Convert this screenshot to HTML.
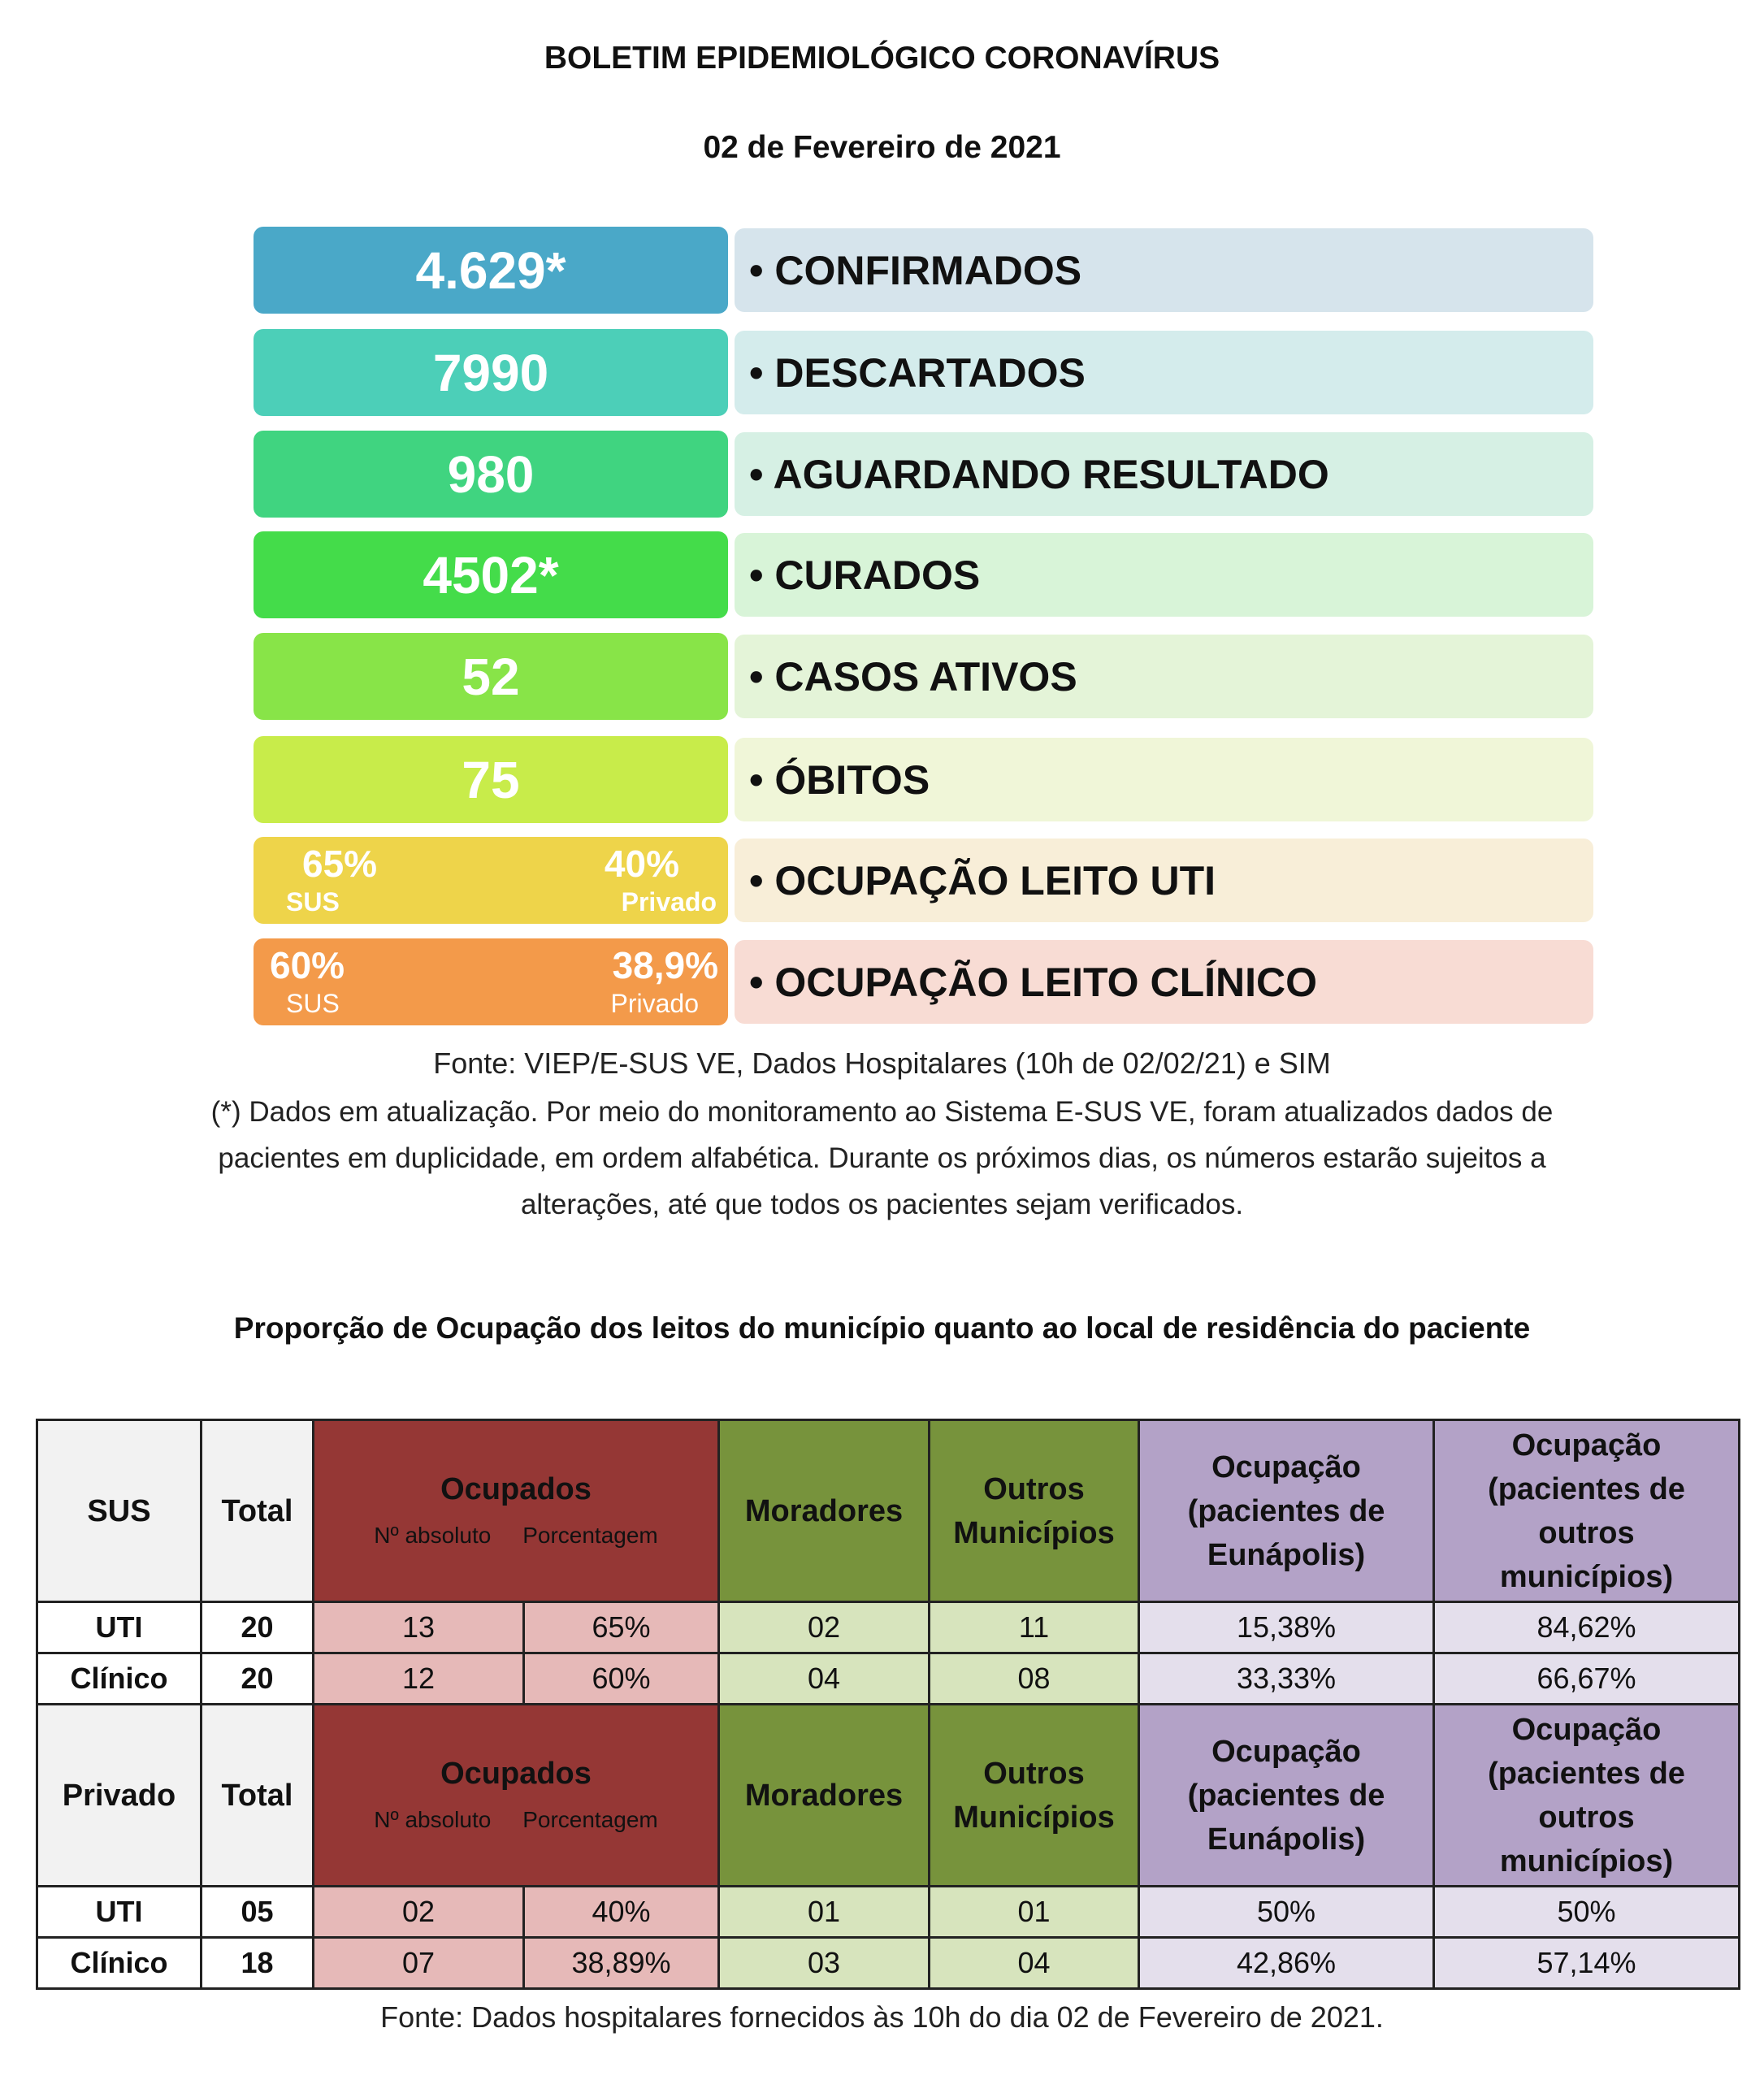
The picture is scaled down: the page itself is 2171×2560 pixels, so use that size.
<!DOCTYPE html>
<html><head><meta charset="utf-8"><style>
*{margin:0;padding:0;box-sizing:border-box}
body{width:2171px;height:2560px;background:#fff;position:relative;overflow:hidden;font-family:"Liberation Sans",sans-serif;color:#111}
.a{position:absolute}
.c{text-align:center}
.t{font-weight:bold;font-size:39px;left:0;width:2171px;text-align:center}
.lb{left:312px;width:584px;height:107px;border-radius:12px;color:#fff;font-weight:bold;font-size:64px;display:flex;align-items:center;justify-content:center}
.rb{left:904px;width:1057px;height:103px;border-radius:12px;font-weight:bold;font-size:50px;display:flex;align-items:center;padding-left:18px}
.note{left:0;width:2171px;text-align:center;font-size:35px;color:#222}
table{position:absolute;left:44px;top:1746px;border-collapse:collapse;font-size:36px}
td{border:3px solid #222;text-align:center;padding:0}
.hr td{height:224px;font-weight:bold;font-size:38px;line-height:54px}
.dr td{height:63px}
.g{background:#f2f2f2}.w{background:#fff;font-weight:bold}
.r{background:#953735;color:#111}.gr{background:#77933c}.p{background:#b3a2c7}
.pk{background:#e6b9b8}.lg{background:#d7e4bd}.lp{background:#e4dfec}
.sub{font-weight:normal;font-size:28px;line-height:36px}
</style></head><body>
<div class="a t" style="top:50px">BOLETIM EPIDEMIOLÓGICO CORONAVÍRUS</div>
<div class="a t" style="top:160px">02 de Fevereiro de 2021</div>

<div class="a lb" style="top:279px;background:#4aa8c8">4.629*</div>
<div class="a rb" style="top:281px;background:#d6e4ec">• CONFIRMADOS</div>
<div class="a lb" style="top:405px;background:#4ccfb8">7990</div>
<div class="a rb" style="top:407px;background:#d4ecec">• DESCARTADOS</div>
<div class="a lb" style="top:530px;background:#40d480">980</div>
<div class="a rb" style="top:532px;background:#d6f0e4">• AGUARDANDO RESULTADO</div>
<div class="a lb" style="top:654px;background:#44dc4a">4502*</div>
<div class="a rb" style="top:656px;background:#d8f4d8">• CURADOS</div>
<div class="a lb" style="top:779px;background:#88e448">52</div>
<div class="a rb" style="top:781px;background:#e4f4d8">• CASOS ATIVOS</div>
<div class="a lb" style="top:906px;background:#c8ec4a">75</div>
<div class="a rb" style="top:908px;background:#f0f6d8">• ÓBITOS</div>

<div class="a lb" style="top:1030px;background:#eed44a;display:block">
 <div class="a" style="left:60px;top:6px;font-size:46px">65%</div>
 <div class="a" style="left:40px;top:62px;font-size:32px">SUS</div>
 <div class="a" style="right:60px;top:6px;font-size:46px">40%</div>
 <div class="a" style="right:14px;top:62px;font-size:32px">Privado</div>
</div>
<div class="a rb" style="top:1032px;background:#f8eed8">• OCUPAÇÃO LEITO UTI</div>
<div class="a lb" style="top:1155px;background:#f39a4a;display:block">
 <div class="a" style="left:20px;top:6px;font-size:46px">60%</div>
 <div class="a" style="left:40px;top:62px;font-size:32px;font-weight:normal">SUS</div>
 <div class="a" style="right:12px;top:6px;font-size:46px">38,9%</div>
 <div class="a" style="right:36px;top:62px;font-size:32px;font-weight:normal">Privado</div>
</div>
<div class="a rb" style="top:1157px;background:#f8dcd4">• OCUPAÇÃO LEITO CLÍNICO</div>

<div class="a note" style="top:1288px;font-size:36px">Fonte: VIEP/E-SUS VE, Dados Hospitalares (10h de 02/02/21) e SIM</div>
<div class="a note" style="top:1340px;line-height:57px">(*) Dados em atualização. Por meio do monitoramento ao Sistema E-SUS VE, foram atualizados dados de<br>pacientes em duplicidade, em ordem alfabética. Durante os próximos dias, os números estarão sujeitos a<br>alterações, até que todos os pacientes sejam verificados.</div>

<div class="a t" style="top:1614px;font-size:37px">Proporção de Ocupação dos leitos do município quanto ao local de residência do paciente</div>

<table>
<colgroup><col style="width:202px"><col style="width:138px"><col style="width:259px"><col style="width:240px"><col style="width:259px"><col style="width:258px"><col style="width:363px"><col style="width:376px"></colgroup>
<tr class="hr"><td class="g">SUS</td><td class="g">Total</td><td class="r" colspan="2">Ocupados<br><span class="sub">Nº absoluto &nbsp;&nbsp;&nbsp; Porcentagem</span></td><td class="gr">Moradores</td><td class="gr">Outros<br>Municípios</td><td class="p">Ocupação<br>(pacientes de<br>Eunápolis)</td><td class="p">Ocupação<br>(pacientes de<br>outros<br>municípios)</td></tr>
<tr class="dr"><td class="w">UTI</td><td class="w">20</td><td class="pk">13</td><td class="pk">65%</td><td class="lg">02</td><td class="lg">11</td><td class="lp">15,38%</td><td class="lp">84,62%</td></tr>
<tr class="dr"><td class="w">Clínico</td><td class="w">20</td><td class="pk">12</td><td class="pk">60%</td><td class="lg">04</td><td class="lg">08</td><td class="lp">33,33%</td><td class="lp">66,67%</td></tr>
<tr class="hr"><td class="g">Privado</td><td class="g">Total</td><td class="r" colspan="2">Ocupados<br><span class="sub">Nº absoluto &nbsp;&nbsp;&nbsp; Porcentagem</span></td><td class="gr">Moradores</td><td class="gr">Outros<br>Municípios</td><td class="p">Ocupação<br>(pacientes de<br>Eunápolis)</td><td class="p">Ocupação<br>(pacientes de<br>outros<br>municípios)</td></tr>
<tr class="dr"><td class="w">UTI</td><td class="w">05</td><td class="pk">02</td><td class="pk">40%</td><td class="lg">01</td><td class="lg">01</td><td class="lp">50%</td><td class="lp">50%</td></tr>
<tr class="dr"><td class="w">Clínico</td><td class="w">18</td><td class="pk">07</td><td class="pk">38,89%</td><td class="lg">03</td><td class="lg">04</td><td class="lp">42,86%</td><td class="lp">57,14%</td></tr>
</table>
<div class="a note" style="top:2462px;font-size:36px">Fonte: Dados hospitalares fornecidos às 10h do dia 02 de Fevereiro de 2021.</div>
</body></html>
